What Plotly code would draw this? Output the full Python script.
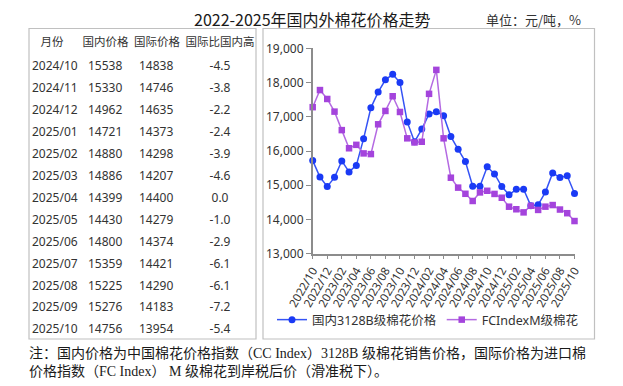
import plotly.graph_objects as go

W, H = 623, 386

months = ["2022/10", "2022/11", "2022/12", "2023/01", "2023/02", "2023/03", "2023/04",
          "2023/05", "2023/06", "2023/07", "2023/08", "2023/09", "2023/10", "2023/11",
          "2023/12", "2024/01", "2024/02", "2024/03", "2024/04", "2024/05", "2024/06",
          "2024/07", "2024/08", "2024/09", "2024/10", "2024/11", "2024/12", "2025/01",
          "2025/02", "2025/03", "2025/04", "2025/05", "2025/06", "2025/07", "2025/08",
          "2025/09", "2025/10"]

cc_price = [15720, 15240, 14960, 15230, 15710, 15390, 15580, 16360, 17260, 17720, 18080,
            18240, 18000, 16850, 16270, 16640, 17080, 17150, 17030, 16420, 16050, 15690,
            14970, 14970, 15538, 15330, 14962, 14721, 14880, 14886, 14399, 14430, 14800,
            15359, 15225, 15276, 14756]

fc_price = [17280, 17780, 17520, 17150, 16610, 16080, 16180, 15930, 15910, 16780, 17170,
            17600, 17140, 16370, 16250, 16270, 17670, 18370, 16370, 15220, 14930, 14750,
            14540, 14790, 14838, 14746, 14635, 14373, 14298, 14207, 14400, 14279, 14374,
            14421, 14290, 14183, 13954]

series_names = ["国内3128B级棉花价格", "FCIndexM级棉花"]

tbl_header = ["月份", "国内价格", "国际价格", "国际比国内高"]
tbl_month = ["2024/10", "2024/11", "2024/12", "2025/01", "2025/02", "2025/03", "2025/04",
             "2025/05", "2025/06", "2025/07", "2025/08", "2025/09", "2025/10"]
tbl_domestic = ["15538", "15330", "14962", "14721", "14880", "14886", "14399",
                "14430", "14800", "15359", "15225", "15276", "14756"]
tbl_intl = ["14838", "14746", "14635", "14373", "14298", "14207", "14400",
            "14279", "14374", "14421", "14290", "14183", "13954"]
tbl_ratio = ["-4.5", "-3.8", "-2.2", "-2.4", "-3.9", "-4.6", "0.0",
             "-1.0", "-2.9", "-6.1", "-6.1", "-7.2", "-5.4"]

title_text = "2022-2025年国内外棉花价格走势"
unit_text = "单位：元/吨，%"
note_text = ("注：国内价格为中国棉花价格指数（CC Index）3128B 级棉花销售价格，国际价格为进口棉<br>"
             "价格指数（FC Index） M 级棉花到岸税后价（滑准税下）。")

BLUE = "#1a3af5"
BLUE_LINE = "#3553f5"
PURPLE = "#a444dc"
PURPLE_LINE = "#b46ae2"
TXT = "#333333"
AXC = "#8c8c8c"
BOX = "#c0c0c0"

OFF = 8  # observed offset of the figure inside the browser window


def px(x):
    return (x - OFF) / W


def py(y):
    return 1 - (y - OFF) / H


xi = list(range(len(months)))

fig = go.Figure()

fig.add_trace(go.Scatter(
    x=xi, y=cc_price, name=series_names[0], mode="lines+markers",
    line=dict(color=BLUE_LINE, width=1.5),
    marker=dict(symbol="circle", size=7, color=BLUE),
    cliponaxis=False,
))
fig.add_trace(go.Scatter(
    x=xi, y=fc_price, name=series_names[1], mode="lines+markers",
    line=dict(color=PURPLE_LINE, width=1.5),
    marker=dict(symbol="square", size=6.5, color=PURPLE),
    cliponaxis=False,
))

fig.add_trace(go.Table(
    domain=dict(x=[px(24), px(257)], y=[py(345), py(29)]),
    columnwidth=[56, 51, 52, 74],
    header=dict(values=tbl_header, align="center", height=24,
                font=dict(family="Noto Sans CJK SC", size=11.5, color=TXT),
                fill=dict(color="white"), line=dict(color="white", width=0)),
    cells=dict(values=[tbl_month, tbl_domestic, tbl_intl, tbl_ratio],
               align=["left", "left", "left", "center"], height=21.95,
               font=dict(family="Noto Sans, Noto Sans CJK SC", size=12, color=TXT),
               fill=dict(color="white"), line=dict(color="white", width=0)),
))

fig.update_layout(
    width=W, height=H,
    margin=dict(l=0, r=0, t=0, b=0, autoexpand=False),
    paper_bgcolor="white", plot_bgcolor="white",
    font=dict(family="Noto Sans, Noto Sans CJK SC", color=TXT),
    showlegend=True,
    legend=dict(orientation="h", x=px(272), xanchor="left", y=py(320), yanchor="middle",
                font=dict(family="Noto Sans, Noto Sans CJK SC", size=12.5, color=TXT),
                bgcolor="rgba(0,0,0,0)", borderwidth=0, itemwidth=30),
    xaxis=dict(
        domain=[px(312.7), px(574.5)], range=[0, len(months) - 1],
        tickmode="array", tickvals=xi[::2], ticktext=months[::2],
        tickangle=-60, ticks="outside", ticklen=4, tickcolor=AXC,
        showline=True, linecolor=AXC, linewidth=1.5, showgrid=False, zeroline=False,
        tickfont=dict(family="Noto Sans", size=11.5, color=TXT),
        anchor="y", automargin=False,
    ),
    yaxis=dict(
        domain=[py(253.7), py(48.3)], range=[13000, 19000], dtick=1000,
        tickformat=",d", ticks="outside", ticklen=5, tickcolor=AXC,
        showline=True, linecolor=AXC, linewidth=1.5, showgrid=False, zeroline=False,
        tickfont=dict(family="Noto Sans", size=12, color=TXT),
        anchor="x", automargin=False,
    ),
    shapes=[
        dict(type="rect", xref="paper", yref="paper", x0=px(29), x1=px(256),
             y0=py(339), y1=py(28.5), line=dict(color=BOX, width=1.2), layer="above"),
        dict(type="rect", xref="paper", yref="paper", x0=px(263), x1=px(594.5),
             y0=py(339), y1=py(28.5), line=dict(color=BOX, width=1.2), layer="above"),
    ],
    annotations=[
        dict(text=title_text, xref="paper", yref="paper", x=px(193), y=py(19.5),
             xanchor="left", yanchor="middle", showarrow=False, borderpad=0,
             font=dict(family="Noto Sans CJK SC", size=16, color="#1a1a1a")),
        dict(text=unit_text, xref="paper", yref="paper", x=px(485), y=py(19.5),
             xanchor="left", yanchor="middle", showarrow=False, borderpad=0,
             font=dict(family="Noto Sans CJK SC", size=13, color="#333333")),
        dict(text=note_text, xref="paper", yref="paper", x=px(27), y=py(362),
             xanchor="left", yanchor="middle", align="left", showarrow=False,
             font=dict(family="Liberation Serif, Noto Sans CJK SC", size=14, color="#1a1a1a")),
    ],
)

fig.write_html("out.html")
